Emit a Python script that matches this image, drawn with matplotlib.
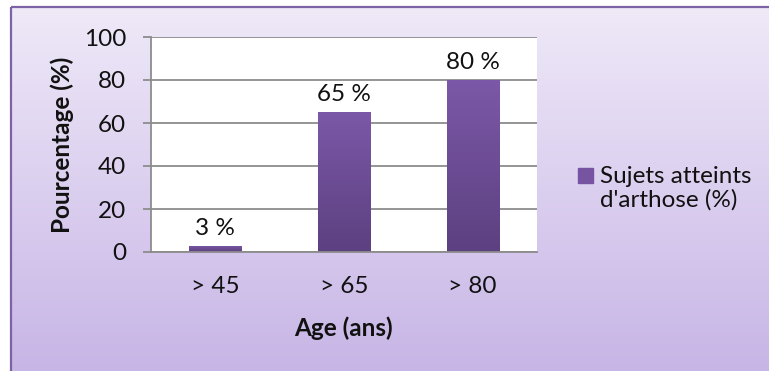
import matplotlib.pyplot as plt
import numpy as np
from matplotlib.colors import LinearSegmentedColormap
from matplotlib.patches import Rectangle

plt.rcParams['font.family'] = ['Lato', 'DejaVu Sans']

categories = ['> 45', '> 65', '> 80']
values = [3, 65, 80]
value_labels = ['3 %', '65 %', '80 %']
series_name = "Sujets atteints\nd'arthose (%)"
y_ticks = [0, 20, 40, 60, 80, 100]

W, H = 769, 371
FS = 17.5
TXT = '#111111'
fig = plt.figure(figsize=(W / 100, H / 100), dpi=100)

# background panel with vertical gradient, drawn in pixel coords
bg = fig.add_axes([0, 0, 1, 1], zorder=0)
grad = np.linspace(0, 1, 256).reshape(-1, 1)
bg_cmap = LinearSegmentedColormap.from_list('bg', ['#efe9f8', '#c7b5e6'])
bg.imshow(grad, cmap=bg_cmap, extent=(11, W + 2, H + 2, 7), aspect='auto')
bg.add_patch(Rectangle((11, 7), W, H, fill=False, ec='#7e62a6', lw=1.6))
bg.set_xlim(0, W)
bg.set_ylim(H, 0)
bg.axis('off')

# legend (Excel style, handle next to first line)
bg.add_patch(Rectangle((578, 168), 15, 15, color='#7654a2'))
bg.text(600, 188.5, series_name, va='center', ha='left', fontsize=FS,
        linespacing=1.15, color=TXT)

# main plot
ax = fig.add_axes([151 / W, 1 - 252 / H, (537 - 151) / W, (252 - 37) / H], zorder=1)
ax.set_facecolor('white')
x = np.arange(len(categories))
bw = 0.405
bars = ax.bar(x, values, width=bw, color='#6e4e98', zorder=2)
bar_cmap = LinearSegmentedColormap.from_list('bar', ['#7c58a8', '#5c4080'])
for b, v in zip(bars, values):
    im = ax.imshow(grad, cmap=bar_cmap, aspect='auto', zorder=3,
                   extent=(b.get_x(), b.get_x() + b.get_width(), 0, v))
    im.set_clip_path(b)

for xi, v, lbl in zip(x, values, value_labels):
    ax.annotate(lbl, (xi, v), xytext=(0, 5), textcoords='offset points',
                ha='center', va='bottom', fontsize=FS, color=TXT)

ax.set_xlim(-0.5, len(categories) - 0.5)
ax.set_ylim(0, 100)
ax.set_yticks(y_ticks)
ax.set_xticks(x)
ax.set_xticklabels(categories)
ax.yaxis.grid(True, color='#8c8c8c', lw=1.3)
ax.set_axisbelow(True)
for s in ['top', 'right']:
    ax.spines[s].set_visible(False)
for s in ['left', 'bottom']:
    ax.spines[s].set_color('#8c8c8c')
    ax.spines[s].set_linewidth(1.3)
ax.spines['bottom'].set_zorder(4)
ax.tick_params(axis='y', length=5.8, width=1.3, color='#8c8c8c',
               labelsize=FS, pad=12, labelcolor=TXT)
ax.tick_params(axis='x', length=0, labelsize=FS, pad=17, labelcolor=TXT)

fig.text(62 / W, 1 - 145 / H, 'Pourcentage (%)', rotation=90, fontsize=FS,
         fontweight='bold', ha='center', va='center', color=TXT)
fig.text(343 / W, 1 - 328 / H, 'Age (ans)', fontsize=FS, fontweight='bold',
         ha='center', va='center', color=TXT)

fig.savefig('out.png', dpi=100)
